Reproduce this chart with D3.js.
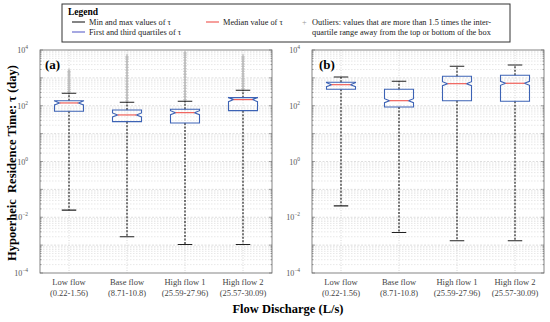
<!DOCTYPE html>
<html>
<head>
<meta charset="utf-8">
<script src="https://cdn.jsdelivr.net/npm/d3@7"></script>
<style>
  body { margin: 0; background: #fff; }
  svg { display: block; }
  svg text { font-family: 'Liberation Serif', 'Times New Roman', 'DejaVu Serif', serif; }
</style>
</head>
<body>
<svg id="chart" width="550" height="322"></svg>
<script>
// categories and flow ranges
const categories = ['Low flow', 'Base flow', 'High flow 1', 'High flow 2'];
const flow_ranges = ['(0.22-1.56)', '(8.71-10.8)', '(25.59-27.96)', '(25.57-30.09)'];

// panel (a) — residence time in days
const a_min = [0.018, 0.002, 0.00105, 0.00105];
const a_q1 = [63.5, 26.9, 24.2, 66.7];
const a_median = [126, 46.8, 56.6, 166];
const a_q3 = [152, 70.6, 74.8, 195];
const a_max = [280, 133, 145, 360];
const a_outliers = [
    [320, 380, 450, 540, 640, 760, 900, 1070, 1270, 1500, 1700],
    [150, 190, 240, 300, 380, 480, 600, 760, 960, 1200, 1500, 1900, 2400, 3000, 3800, 4700, 5600],
    [165, 210, 260, 330, 420, 530, 670, 850, 1070, 1350, 1700, 2150, 2700, 3400, 4300, 5400, 6600, 7800],
    [410, 500, 620, 760, 930, 1150, 1400, 1700, 2100, 2600, 3200, 3900, 4700, 5600]
];

// panel (b)
const b_min = [0.0256, 0.00283, 0.00143, 0.00143];
const b_q1 = [390, 90.6, 152, 145];
const b_median = [570, 152, 620, 640];
const b_q3 = [695, 390, 1140, 1240];
const b_max = [1077, 755, 2600, 2900];
const b_outliers = [[], [], [], []];

// y tick labels (exponents)
const y_tick_exps = [4, 2, 0, -2, -4];

const box_color = '#3d63b5';
const median_color = '#f0605a';
const whisker_color = '#222';
const outlier_color = '#bdbdbd';
const grid_color = '#d6d6d6';

let svg = d3.select('#chart');

let top_y = 50, bottom_y = 273;
let y = d3.scaleLog().domain([1e-4, 1e4]).range([bottom_y, top_y]);

function build_stats(mins, q1s, meds, q3s, maxs, outs) {
    return categories.map((c, i) => ({
        cat: c, min: mins[i], q1: q1s[i], med: meds[i], q3: q3s[i], max: maxs[i], out: outs[i]
    }));
}

function draw_panel(left, right, stats, label) {
    let g = svg.append('g');
    let x = d3.scaleBand().domain(categories).range([left, right]).padding(0);
    let bw = x.bandwidth();

    // 网格 horizontal grid: decades + minor
    let grid_vals = [];
    for (let k = -4; k <= 3; k++) {
        for (let m = 1; m <= 9; m++) grid_vals.push({ v: m * Math.pow(10, k), major: m === 1 });
    }
    g.append('g').selectAll('line')
        .data(grid_vals.filter(d => d.v > 1e-4))
        .join('line')
        .attr('x1', left).attr('x2', right)
        .attr('y1', d => y(d.v)).attr('y2', d => y(d.v))
        .attr('stroke', grid_color)
        .attr('stroke-width', d => d.major ? 0.8 : 0.6)
        .attr('stroke-dasharray', d => d.major ? '2,1.5' : '1.5,1.5');

    // vertical grid at categories
    g.append('g').selectAll('line')
        .data(categories)
        .join('line')
        .attr('x1', d => x(d) + bw / 2).attr('x2', d => x(d) + bw / 2)
        .attr('y1', top_y).attr('y2', bottom_y)
        .attr('stroke', grid_color)
        .attr('stroke-dasharray', '1,1.5');

    // axis box
    g.append('rect')
        .attr('x', left).attr('y', top_y)
        .attr('width', right - left).attr('height', bottom_y - top_y)
        .attr('fill', 'none').attr('stroke', '#666').attr('stroke-width', 0.8);

    // ticks (inside, left & right)
    let tick_data = grid_vals.concat([{ v: 1e4, major: true }]);
    [left, right].forEach(xx => {
        let dir = xx === left ? 1 : -1;
        g.append('g').selectAll('line')
            .data(tick_data)
            .join('line')
            .attr('x1', xx).attr('x2', d => xx + dir * (d.major ? 3 : 1.5))
            .attr('y1', d => y(d.v)).attr('y2', d => y(d.v))
            .attr('stroke', '#666').attr('stroke-width', 0.6);
    });

    // y tick labels 10^k
    let lab = g.append('g').selectAll('text')
        .data(y_tick_exps)
        .join('text')
        .attr('x', left - 12)
        .attr('y', d => y(Math.pow(10, d)) + 3)
        .attr('text-anchor', 'end')
        .attr('font-size', 8)
        .attr('fill', '#555')
        .text('10');
    lab.append('tspan')
        .attr('dy', -4)
        .attr('font-size', 5.5)
        .text(d => d < 0 ? '\u2212' + Math.abs(d) : d);

    // category labels
    let cl = g.append('g').selectAll('text')
        .data(categories)
        .join('text')
        .attr('x', d => x(d) + bw / 2)
        .attr('y', 285)
        .attr('text-anchor', 'middle')
        .attr('font-size', 8.5)
        .attr('fill', '#444');
    cl.append('tspan').text(d => d);
    cl.append('tspan')
        .attr('x', d => x(d) + bw / 2)
        .attr('dy', 10.5)
        .text((d, i) => flow_ranges[i]);

    // boxes
    let half = bw * 0.25;      // box half width
    let cap = bw * 0.125;      // whisker cap half width
    let notch_in = half * 0.35;
    let notch_h = 2;

    let bx = g.append('g').selectAll('g')
        .data(stats)
        .join('g');

    // outliers 离群点
    bx.each(function (d) {
        let cx = x(d.cat) + bw / 2;
        d3.select(this).selectAll('path.out')
            .data(d.out)
            .join('path')
            .attr('class', 'out')
            .attr('d', v => `M${cx - 1.6},${y(v)}H${cx + 1.6}M${cx},${y(v) - 3}V${y(v) + 3}`)
            .attr('stroke', outlier_color)
            .attr('stroke-width', 1.3)
            .attr('fill', 'none');
    });

    // whiskers
    bx.append('path')
        .attr('d', d => {
            let cx = x(d.cat) + bw / 2;
            return `M${cx},${y(d.q3)}V${y(d.max)}M${cx},${y(d.q1)}V${y(d.min)}`;
        })
        .attr('stroke', whisker_color)
        .attr('stroke-width', 1.2)
        .attr('stroke-dasharray', '2,1.5');
    bx.append('path')
        .attr('d', d => {
            let cx = x(d.cat) + bw / 2;
            return `M${cx - cap},${y(d.max)}H${cx + cap}M${cx - cap},${y(d.min)}H${cx + cap}`;
        })
        .attr('stroke', whisker_color)
        .attr('stroke-width', 1.1);

    // notched box
    bx.append('path')
        .attr('d', d => {
            let cx = x(d.cat) + bw / 2;
            let t = y(d.q3), b = y(d.q1), m = y(d.med);
            return `M${cx - half},${t}H${cx + half}V${m - notch_h}L${cx + half - notch_in},${m}` +
                `L${cx + half},${m + notch_h}V${b}H${cx - half}V${m + notch_h}` +
                `L${cx - half + notch_in},${m}L${cx - half},${m - notch_h}Z`;
        })
        .attr('fill', 'none')
        .attr('stroke', box_color)
        .attr('stroke-width', 1.1);

    // median
    bx.append('line')
        .attr('x1', d => x(d.cat) + bw / 2 - half + notch_in)
        .attr('x2', d => x(d.cat) + bw / 2 + half - notch_in)
        .attr('y1', d => y(d.med)).attr('y2', d => y(d.med))
        .attr('stroke', median_color)
        .attr('stroke-width', 1.2);

    // panel label
    g.append('text')
        .attr('x', left + (label === '(a)' ? 5 : 7))
        .attr('y', 69)
        .attr('font-size', 13)
        .attr('font-weight', 'bold')
        .text(label);
}

draw_panel(40, 272, build_stats(a_min, a_q1, a_median, a_q3, a_max, a_outliers), '(a)');
draw_panel(312, 544, build_stats(b_min, b_q1, b_median, b_q3, b_max, b_outliers), '(b)');

// axis titles
svg.append('text')
    .attr('transform', 'translate(16,163) rotate(-90)')
    .attr('text-anchor', 'middle')
    .attr('font-size', 12.5)
    .attr('font-weight', 'bold')
    .style('white-space', 'pre')
    .text('Hypoerheic  Residence Time: \u03c4 (day)');

svg.append('text')
    .attr('x', 288)
    .attr('y', 313)
    .attr('text-anchor', 'middle')
    .attr('font-size', 12.5)
    .attr('font-weight', 'bold')
    .text('Flow Discharge (L/s)');

// legend
let lg = svg.append('g');
lg.append('rect')
    .attr('x', 62).attr('y', 4).attr('width', 448).attr('height', 38)
    .attr('fill', '#fff').attr('stroke', '#333').attr('stroke-width', 1);
lg.append('text')
    .attr('x', 68).attr('y', 15)
    .attr('font-size', 9.5).attr('font-weight', 'bold')
    .text('Legend');

let legend_items = [
    { x: 72, y: 25, color: '#333', text: 'Min and max values of \u03c4' },
    { x: 72, y: 35, color: '#6b6fcf', text: 'First and third quartiles of \u03c4' },
    { x: 206, y: 25, color: median_color, text: 'Median value of \u03c4' }
];
lg.selectAll('line.item')
    .data(legend_items)
    .join('line')
    .attr('class', 'item')
    .attr('x1', d => d.x).attr('x2', d => d.x + 13)
    .attr('y1', d => d.y - 3).attr('y2', d => d.y - 3)
    .attr('stroke', d => d.color).attr('stroke-width', 1.2);
lg.selectAll('text.item')
    .data(legend_items)
    .join('text')
    .attr('class', 'item')
    .attr('x', d => d.x + 17).attr('y', d => d.y)
    .attr('font-size', 8.3).attr('fill', '#222')
    .text(d => d.text);

lg.append('text')
    .attr('x', 302).attr('y', 25)
    .attr('font-size', 8.3).attr('fill', '#999')
    .text('+');
lg.append('text')
    .attr('x', 312).attr('y', 25)
    .attr('font-size', 8.3).attr('fill', '#222')
    .text('Outliers: values that are more than 1.5 times the inter-');
lg.append('text')
    .attr('x', 312).attr('y', 35)
    .attr('font-size', 8.3).attr('fill', '#222')
    .text('quartile range away from the top or bottom of the box');
</script>
</body>
</html>
